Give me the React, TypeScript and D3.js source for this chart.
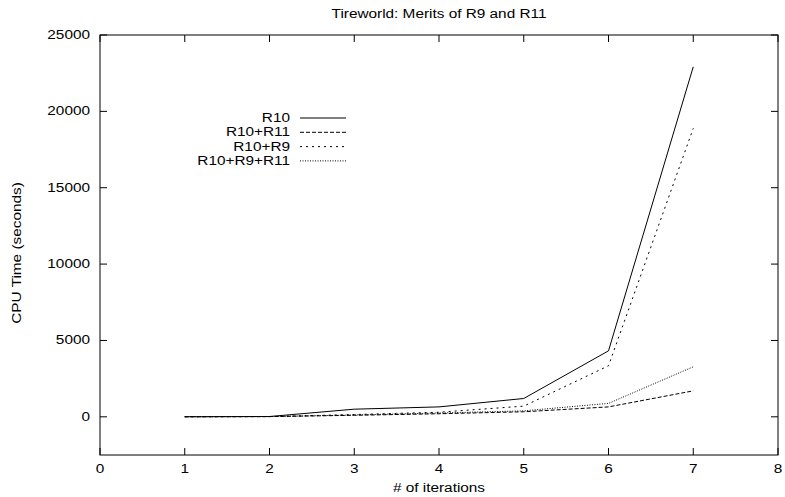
import React, { useRef, useEffect } from "react";
import * as d3 from "d3";

const iterations = [1, 2, 3, 4, 5, 6, 7];
const r10 = [5, 20, 500, 650, 1200, 4320, 22920];
const r10r11 = [5, 15, 100, 200, 330, 650, 1700];
const r10r9 = [5, 15, 150, 300, 700, 3340, 18890];
const r10r9r11 = [5, 15, 120, 250, 390, 880, 3275];
const seriesNames = ["R10", "R10+R11", "R10+R9", "R10+R9+R11"];
const dashes = ["none", "4,2", "2,4", "1,1.5"];
const xTicks = [0, 1, 2, 3, 4, 5, 6, 7, 8];
const yTicks = [0, 5000, 10000, 15000, 20000, 25000];

const App = () => {
  const svgRef = useRef<SVGSVGElement>(null);

  useEffect(() => {
    const svg = d3.select(svgRef.current);
    svg.selectAll("*").remove();

    const width = 785;
    const height = 497;
    const margin = { top: 35, right: 7, bottom: 42, left: 100 };
    const font = "'Liberation Sans', Arial, sans-serif";
    // gnuplot's text comes out stretched sideways
    const stretch = 1.28;

    const x = d3.scaleLinear().domain([0, 8]).range([margin.left, width - margin.right]);
    const y = d3.scaleLinear().domain([-2500, 25000]).range([height - margin.bottom, margin.top]);

    const x0 = margin.left;
    const x1 = width - margin.right;
    const y0 = height - margin.bottom;
    const y1 = margin.top;
    const tick = 7;

    const g = svg.append("g").attr("font-family", font).attr("font-size", 12);

    const label = (tx: number, ty: number, txt: string | number, anchor: string, rot = 0) =>
      g.append("text")
        .attr("transform", `translate(${tx},${ty}) rotate(${rot}) scale(${stretch},1)`)
        .attr("text-anchor", anchor)
        .text(txt);

    // Frame
    g.append("rect")
      .attr("x", x0)
      .attr("y", y1)
      .attr("width", x1 - x0)
      .attr("height", y0 - y1)
      .attr("fill", "none")
      .attr("stroke", "#000")
      .attr("stroke-width", 1);

    // x ticks (mirrored, inward)
    xTicks.forEach((t) => {
      const px = x(t);
      g.append("line").attr("x1", px).attr("x2", px).attr("y1", y0).attr("y2", y0 - tick).attr("stroke", "#000");
      g.append("line").attr("x1", px).attr("x2", px).attr("y1", y1).attr("y2", y1 + tick).attr("stroke", "#000");
      label(px, y0 + 18, t, "middle");
    });

    // y ticks
    yTicks.forEach((t) => {
      const py = y(t);
      g.append("line").attr("x1", x0).attr("x2", x0 + tick).attr("y1", py).attr("y2", py).attr("stroke", "#000");
      g.append("line").attr("x1", x1).attr("x2", x1 - tick).attr("y1", py).attr("y2", py).attr("stroke", "#000");
      label(x0 - 10, py + 4, t, "end");
    });

    // Title and axis labels
    label(439, 18, "Tireworld: Merits of R9 and R11", "middle");
    label(439, 492, "# of iterations", "middle");
    label(21, 253, "CPU Time (seconds)", "middle", -90);

    // Lines
    const all = [r10, r10r11, r10r9, r10r9r11];
    const line = d3
      .line<number>()
      .x((_, i) => x(iterations[i]))
      .y((d) => y(d));

    all.forEach((vals, i) => {
      g.append("path")
        .datum(vals)
        .attr("d", line)
        .attr("fill", "none")
        .attr("stroke", "#000")
        .attr("stroke-width", 1)
        .attr("stroke-dasharray", dashes[i]);
    });

    // Legend
    seriesNames.forEach((name, i) => {
      const ly = 118 + i * 14.3;
      label(290, ly + 4, name, "end");
      g.append("line")
        .attr("x1", 300)
        .attr("x2", 346)
        .attr("y1", ly)
        .attr("y2", ly)
        .attr("stroke", "#000")
        .attr("stroke-dasharray", dashes[i]);
    });
  }, []);

  return <svg ref={svgRef} width={785} height={497} style={{ position: "absolute", left: 0, top: 0 }}></svg>;
};

export default App;
